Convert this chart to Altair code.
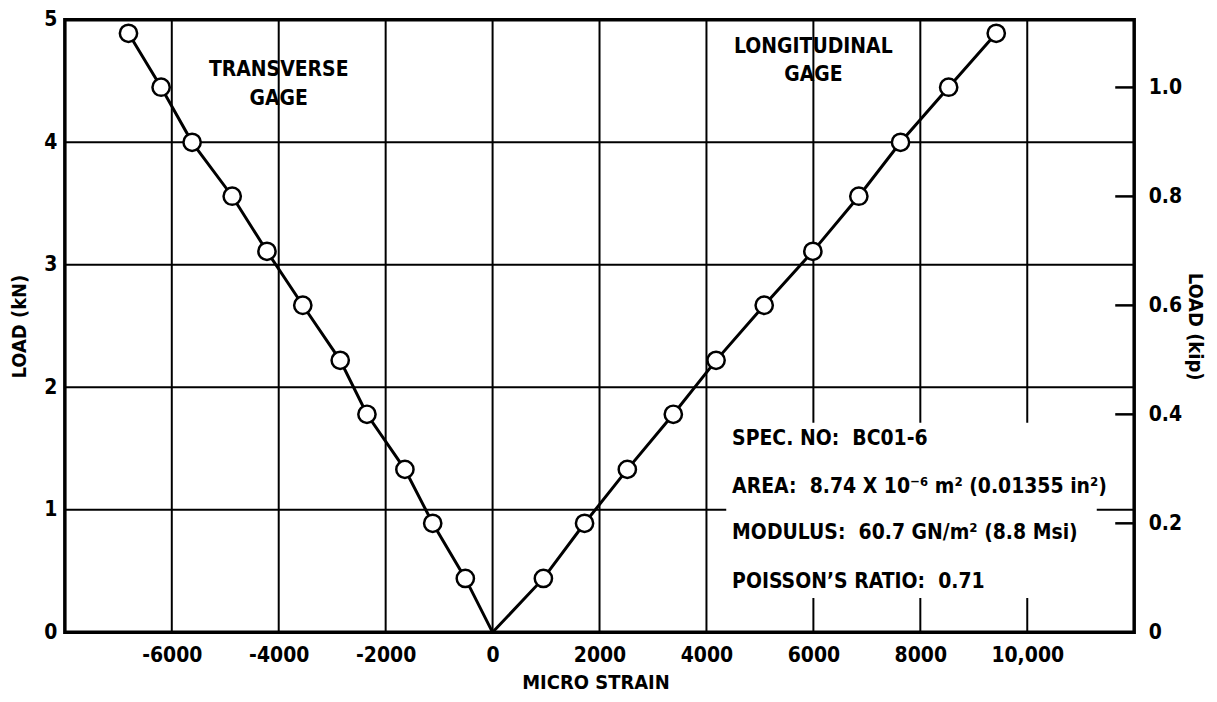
import altair as alt
import pandas as pd

FONT = "DejaVu Sans Condensed, Liberation Sans Narrow, sans-serif"

# ---- data ----
load_kn = [0.44, 0.89, 1.33, 1.78, 2.22, 2.67, 3.11, 3.56, 4.00, 4.45, 4.89]
transverse_strain = [-510, -1120, -1640, -2350, -2850, -3550, -4220, -4870, -5620, -6200, -6810]
longitudinal_strain = [950, 1720, 2520, 3380, 4180, 5080, 5990, 6850, 7630, 8530, 9420]

x_ticks = [-6000, -4000, -2000, 0, 2000, 4000, 6000, 8000, 10000]
kn_ticks = [0, 1, 2, 3, 4, 5]
kip_ticks = [0, 0.2, 0.4, 0.6, 0.8, 1.0]
KN_PER_KIP = 4.4482

# grid segments (value, start, end)
vgrid_x = [-6000, -4000, -2000, 0, 2000, 4000, 6000, 8000, 10000, 6000, 8000, 10000]
vgrid_y0 = [0, 0, 0, 0, 0, 0, 1.71, 1.71, 1.71, 0, 0, 0]
vgrid_y1 = [5, 5, 5, 5, 5, 5, 5, 5, 5, 0.28, 0.28, 0.28]
hgrid_y = [1, 1, 2, 3, 4]
hgrid_x0 = [-8000, 11300, -8000, -8000, -8000]
hgrid_x1 = [4370, 12000, 12000, 12000, 12000]

gage_text = ["TRANSVERSE", "GAGE", "LONGITUDINAL", "GAGE"]
gage_x = [-4000, -4000, 6000, 6000]
gage_y = [4.59, 4.35, 4.78, 4.55]

info_text = [
    "SPEC. NO:\u00a0 BC01-6",
    "AREA:\u00a0 8.74 X 10\u207b\u2076 m\u00b2 (0.01355 in\u00b2)",
    "MODULUS:\u00a0 60.7 GN/m\u00b2 (8.8 Msi)",
    "POISSON\u2019S RATIO:\u00a0 0.71",
]
info_x = [4480, 4480, 4480, 4480]
info_y = [1.58, 1.19, 0.81, 0.41]

# ---- tables ----
lines_df = pd.DataFrame({
    "strain": [0] + transverse_strain + [0] + longitudinal_strain,
    "load": [0] + load_kn + [0] + load_kn,
    "gage": ["T"] * 12 + ["L"] * 12,
    "order": list(range(12)) * 2,
})
pts_df = pd.DataFrame({
    "strain": transverse_strain + longitudinal_strain,
    "load": load_kn + load_kn,
})
vgrid_df = pd.DataFrame({"x": vgrid_x, "y0": vgrid_y0, "y1": vgrid_y1})
hgrid_df = pd.DataFrame({"y": hgrid_y, "x0": hgrid_x0, "x1": hgrid_x1})
gage_df = pd.DataFrame({"t": gage_text, "x": gage_x, "y": gage_y})
info_df = pd.DataFrame({"t": info_text, "x": info_x, "y": info_y})
kip_df = pd.DataFrame({"kip": kip_ticks})

xscale = alt.Scale(domain=[-8000, 12000], nice=False, zero=False)
yscale = alt.Scale(domain=[0, 5], nice=False)

xaxis = alt.Axis(
    values=x_ticks,
    labelExpr="datum.value == 10000 ? '10,000' : '' + datum.value",
    grid=False, ticks=False, tickSize=0, domain=False,
    labelFont=FONT, labelFontSize=21, labelFontWeight="bold", labelColor="black",
    labelPadding=12,
    title="MICRO STRAIN", titleFont=FONT, titleFontSize=20, titleFontWeight="bold",
    titleColor="black", titleX=532, titleY=50, titleBaseline="middle",
)
yaxis = alt.Axis(
    values=kn_ticks, format="d",
    grid=False, ticks=False, tickSize=0, domain=False,
    labelFont=FONT, labelFontSize=21, labelFontWeight="bold", labelColor="black",
    labelPadding=8,
    title="LOAD (kN)", titleFont=FONT, titleFontSize=20, titleFontWeight="bold",
    titleColor="black", titlePadding=14,
)

vgrid = alt.Chart(vgrid_df).mark_rule(color="black", strokeWidth=2).encode(
    x=alt.X("x:Q", scale=xscale, axis=xaxis),
    y=alt.Y("y0:Q", scale=yscale, axis=yaxis),
    y2="y1:Q",
)
hgrid = alt.Chart(hgrid_df).mark_rule(color="black", strokeWidth=2).encode(
    y=alt.Y("y:Q", scale=yscale),
    x=alt.X("x0:Q", scale=xscale),
    x2="x1:Q",
)
lines = alt.Chart(lines_df).mark_line(color="black", strokeWidth=3).encode(
    x=alt.X("strain:Q", scale=xscale),
    y=alt.Y("load:Q", scale=yscale),
    detail="gage:N",
    order="order:Q",
)
points = alt.Chart(pts_df).mark_point(
    shape="circle", filled=True, fill="white", stroke="black", strokeWidth=2.5,
    size=300, opacity=1,
).encode(
    x=alt.X("strain:Q", scale=xscale),
    y=alt.Y("load:Q", scale=yscale),
)
gage = alt.Chart(gage_df).mark_text(
    font=FONT, fontSize=21, fontWeight="bold", color="black",
    align="center", baseline="middle",
).encode(
    x=alt.X("x:Q", scale=xscale),
    y=alt.Y("y:Q", scale=yscale),
    text="t:N",
)
info = alt.Chart(info_df).mark_text(
    font=FONT, fontSize=21, fontWeight="bold", color="black",
    align="left", baseline="middle",
).encode(
    x=alt.X("x:Q", scale=xscale),
    y=alt.Y("y:Q", scale=yscale),
    text="t:N",
)

main = alt.layer(vgrid, hgrid, lines, points, gage, info)

kip_axis = alt.Axis(
    orient="right", values=kip_ticks,
    labelExpr="datum.value == 0 ? '0' : format(datum.value, '.1f')",
    grid=False, ticks=False, tickSize=0, domain=False,
    labelFont=FONT, labelFontSize=21, labelFontWeight="bold", labelColor="black",
    labelPadding=14,
    title="LOAD (kip)", titleFont=FONT, titleFontSize=20, titleFontWeight="bold",
    titleColor="black", titlePadding=3,
)
kip = alt.Chart(kip_df).mark_rule(color="black", strokeWidth=2.5).encode(
    y=alt.Y("kip:Q", scale=alt.Scale(domain=[0, 5 / KN_PER_KIP], nice=False), axis=kip_axis),
    x=alt.value(1053),
    x2=alt.value(1072),
)

chart = alt.layer(main, kip).resolve_scale(y="independent").properties(
    width=1072, height=614,
    autosize=alt.AutoSizeParams(type="none"),
    padding={"left": 57, "top": 11, "right": 75, "bottom": 64},
    background="white",
).configure_view(stroke="black", strokeWidth=3.5)

chart.save("out.html", embed_options={"renderer": "svg", "actions": False})
